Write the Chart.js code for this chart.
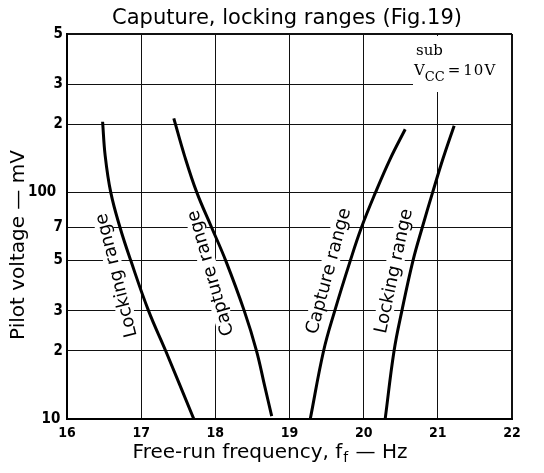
<!DOCTYPE html>
<html>
<head>
<meta charset="utf-8">
<script src="https://cdn.jsdelivr.net/npm/chart.js@4.4.1/dist/chart.umd.min.js"></script>
<style>
  html, body { margin: 0; padding: 0; background: #fff; }
  canvas { display: block; }
</style>
</head>
<body>
<canvas id="chart" width="544" height="473"></canvas>
<script>
const titleText = 'Caputure, locking ranges (Fig.19)';
const xTitle = ['Free-run frequency, f', 'f', ' — Hz'];
const yTitle = 'Pilot voltage — mV';
const noteTop = 'sub';
const noteMain = ['V', 'CC', '=', '10V'];

const xTicks = [16, 17, 18, 19, 20, 21, 22];
const yTicks = [10, 20, 30, 50, 70, 100, 200, 300, 500];
const yTickLabels = ['10', '2', '3', '5', '7', '100', '2', '3', '5'];

const seriesNames = ['Locking range', 'Capture range', 'Capture range', 'Locking range'];

// pilot voltage (mV) and the free-run frequency (Hz)
const lockLowV = [205, 145, 100, 70, 50, 30, 20, 10];
const lockLowF = [16.48, 16.515, 16.59, 16.715, 16.86, 17.10, 17.33, 17.71];
const capLowV = [212, 145, 100, 70, 50, 30, 20, 14, 10.3];
const capLowF = [17.44, 17.585, 17.75, 17.95, 18.14, 18.39, 18.555, 18.665, 18.76];
const capHighV = [190, 140, 100, 70, 50, 30, 20, 10];
const capHighF = [20.56, 20.355, 20.16, 19.97, 19.82, 19.61, 19.46, 19.28];
const lockHighV = [197, 141, 100, 70, 50, 30, 20, 10];
const lockHighF = [21.22, 21.07, 20.93, 20.79, 20.665, 20.515, 20.41, 20.29];

const curves = [
    [lockLowF, lockLowV],
    [capLowF, capLowV],
    [capHighF, capHighV],
    [lockHighF, lockHighV]
];

// where each curve name sits (data coords) and its tilt in degrees
const labelSpots = [
    { x: 16.66, y: 43, angle: -104 },
    { x: 17.93, y: 44, angle: -106 },
    { x: 19.52, y: 45, angle: -75 },
    { x: 20.40, y: 45, angle: -78 }
];

const tickFont = "'Liberation Sans Narrow', 'DejaVu Sans Condensed', sans-serif";
const textFont = "'DejaVu Sans', sans-serif";
const noteFont = "'DejaVu Serif', serif";

const datasets = curves.map(([fs, vs], i) => ({
    label: seriesNames[i],
    data: fs.map((f, j) => ({ x: f, y: vs[j] })),
    indexAxis: 'y',
    borderColor: '#000',
    borderWidth: 3,
    pointRadius: 0,
    tension: 0.4,
    fill: false
}));

const drawTexts = {
    id: 'drawTexts',
    afterDraw(chart) {
        const { ctx, scales: { x, y } } = chart;
        ctx.save();
        ctx.fillStyle = '#000';

        // title
        ctx.font = '21px ' + textFont;
        ctx.textAlign = 'center';
        ctx.textBaseline = 'alphabetic';
        ctx.fillText(titleText, 287, 24);

        // x axis title with subscript
        ctx.font = '20px ' + textFont;
        const w0 = ctx.measureText(xTitle[0]).width;
        const w2 = ctx.measureText(xTitle[2]).width;
        ctx.font = '14px ' + textFont;
        const w1 = ctx.measureText(xTitle[1]).width;
        let cx = 270 - (w0 + w1 + w2 + 2) / 2;
        ctx.textAlign = 'left';
        ctx.font = '20px ' + textFont;
        ctx.fillText(xTitle[0], cx, 458);
        cx += w0 + 1;
        ctx.font = '14px ' + textFont;
        ctx.fillText(xTitle[1], cx, 462);
        cx += w1 + 1;
        ctx.font = '20px ' + textFont;
        ctx.fillText(xTitle[2], cx, 458);

        // y axis title
        ctx.save();
        ctx.translate(24, 245);
        ctx.rotate(-Math.PI / 2);
        ctx.textAlign = 'center';
        ctx.font = '20px ' + textFont;
        ctx.fillText(yTitle, 0, 0);
        ctx.restore();

        // curve names
        ctx.font = '18px ' + textFont;
        ctx.textAlign = 'center';
        ctx.textBaseline = 'middle';
        labelSpots.forEach((s, i) => {
            const px = x.getPixelForValue(s.x);
            const py = y.getPixelForValue(s.y);
            const w = ctx.measureText(seriesNames[i]).width;
            ctx.save();
            ctx.translate(px, py);
            ctx.rotate(s.angle * Math.PI / 180);
            ctx.fillStyle = '#fff';
            ctx.fillRect(-w / 2 - 2, -9, w + 4, 18);
            ctx.fillStyle = '#000';
            ctx.fillText(seriesNames[i], 0, 1);
            ctx.restore();
        });

        // supply note in the top right corner
        ctx.fillStyle = '#fff';
        ctx.fillRect(413, 36, 98, 56);
        ctx.fillStyle = '#000';
        ctx.textAlign = 'left';
        ctx.textBaseline = 'alphabetic';
        ctx.font = '15px ' + noteFont;
        ctx.fillText(noteTop, 416, 55);
        let nx = 414;
        ctx.fillText(noteMain[0], nx, 75);
        nx += ctx.measureText(noteMain[0]).width;
        ctx.font = '13px ' + noteFont;
        ctx.fillText(noteMain[1], nx, 81);
        nx += ctx.measureText(noteMain[1]).width + 3;
        ctx.font = '15px ' + noteFont;
        ctx.fillText(noteMain[2], nx, 75);
        nx += ctx.measureText(noteMain[2]).width + 3;
        ctx.letterSpacing = '1px';
        ctx.fillText(noteMain[3], nx, 75);

        ctx.restore();
    }
};

new Chart(document.getElementById('chart'), {
    type: 'line',
    data: { datasets },
    options: {
        responsive: false,
        animation: false,
        devicePixelRatio: 1,
        layout: { padding: { top: 34, right: 32, left: 0, bottom: 0 } },
        plugins: {
            legend: { display: false },
            title: { display: false },
            tooltip: { enabled: false }
        },
        scales: {
            x: {
                type: 'linear',
                min: 16,
                max: 22,
                afterBuildTicks: (s) => { s.ticks = xTicks.map(v => ({ value: v })); },
                afterFit: (s) => { s.height = 54; },
                ticks: {
                    color: '#000',
                    font: { family: tickFont, size: 14, weight: 'bold' },
                    padding: 6,
                    maxRotation: 0
                },
                grid: {
                    color: '#111',
                    lineWidth: (c) => (c.tick && c.tick.value === 22 ? 2 : 1),
                    drawTicks: false
                },
                border: { color: '#000', width: 2 }
            },
            y: {
                type: 'logarithmic',
                min: 10,
                max: 500,
                afterBuildTicks: (s) => { s.ticks = yTicks.map(v => ({ value: v })); },
                afterFit: (s) => { s.width = 67; },
                ticks: {
                    color: '#000',
                    font: { family: tickFont, size: 15, weight: 'bold' },
                    padding: 4,
                    // the 10 and 100 labels sit a little left of the others
                    callback: (v, i) => yTickLabels[i] + (v === 100 ? '\u2002' : v === 10 ? '\u2009' : '')
                },
                grid: {
                    color: '#111',
                    lineWidth: (c) => (c.tick && c.tick.value === 500 ? 2 : 1),
                    drawTicks: false
                },
                border: { color: '#000', width: 2 }
            }
        }
    },
    plugins: [drawTexts]
});
</script>
</body>
</html>
